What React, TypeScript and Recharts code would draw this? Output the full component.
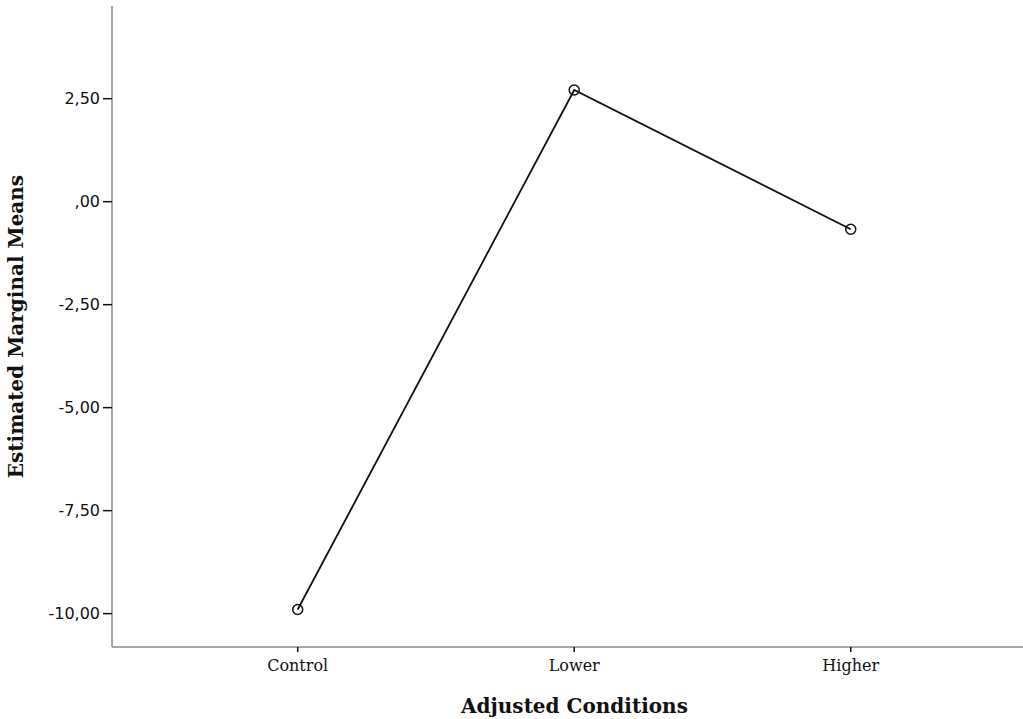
import { LineChart, Line, XAxis, YAxis, Label } from "recharts";

const conditions = ["Control", "Lower", "Higher"];
const means = [-9.9, 2.71, -0.67];
const yTicks = [-10, -7.5, -5, -2.5, 0, 2.5];

const data = conditions.map((c, i) => ({ x: i, name: c, mean: means[i] }));

const fmtY = (v: number) => {
  const s = Math.abs(v).toFixed(2).replace(".", ",");
  const body = s.startsWith("0,") ? s.slice(1) : s;
  return (v < 0 ? "-" : "") + body;
};

export default function App() {
  return (
    <div style={{ position: "absolute", left: 0, top: 0, background: "#fff" }}>
      <LineChart
        width={1023}
        height={719}
        data={data}
        margin={{ top: 6, right: 0, bottom: 0, left: 0 }}
      >
        <XAxis
          dataKey="x"
          type="number"
          domain={[-0.6716, 2.623]}
          ticks={[0, 1, 2]}
          tickFormatter={(v: number) => conditions[v]}
          height={72}
          stroke="#888"
          strokeWidth={1.5}
          tickSize={5}
          tickMargin={8}
          tick={{ fill: "#111", fontSize: 16, fontFamily: "DejaVu Serif" }}
          tickLine={{ stroke: "#111" }}
          allowDataOverflow
        >
          <Label
            value="Adjusted Conditions"
            position="insideBottom"
            offset={6}
            dx={7}
            style={{ fontFamily: "DejaVu Serif", fontWeight: "bold", fontSize: 20, fill: "#111" }}
          />
        </XAxis>
        <YAxis
          type="number"
          domain={[-10.81, 4.75]}
          ticks={yTicks}
          tickFormatter={fmtY}
          width={112}
          stroke="#888"
          strokeWidth={1.5}
          tickSize={9}
          tickMargin={3}
          tick={{ fill: "#111", fontSize: 16, fontFamily: "DejaVu Sans" }}
          tickLine={{ stroke: "#111" }}
          allowDataOverflow
        >
          <Label
            value="Estimated Marginal Means"
            angle={-90}
            position="insideLeft"
            offset={16}
            style={{ fontFamily: "DejaVu Serif", fontWeight: "bold", fontSize: 20, fill: "#111", textAnchor: "middle" }}
          />
        </YAxis>
        <Line
          dataKey="mean"
          stroke="#111"
          strokeWidth={1.8}
          dot={{ r: 5, stroke: "#111", strokeWidth: 1.5, fill: "none" }}
          isAnimationActive={false}
        />
      </LineChart>
    </div>
  );
}
